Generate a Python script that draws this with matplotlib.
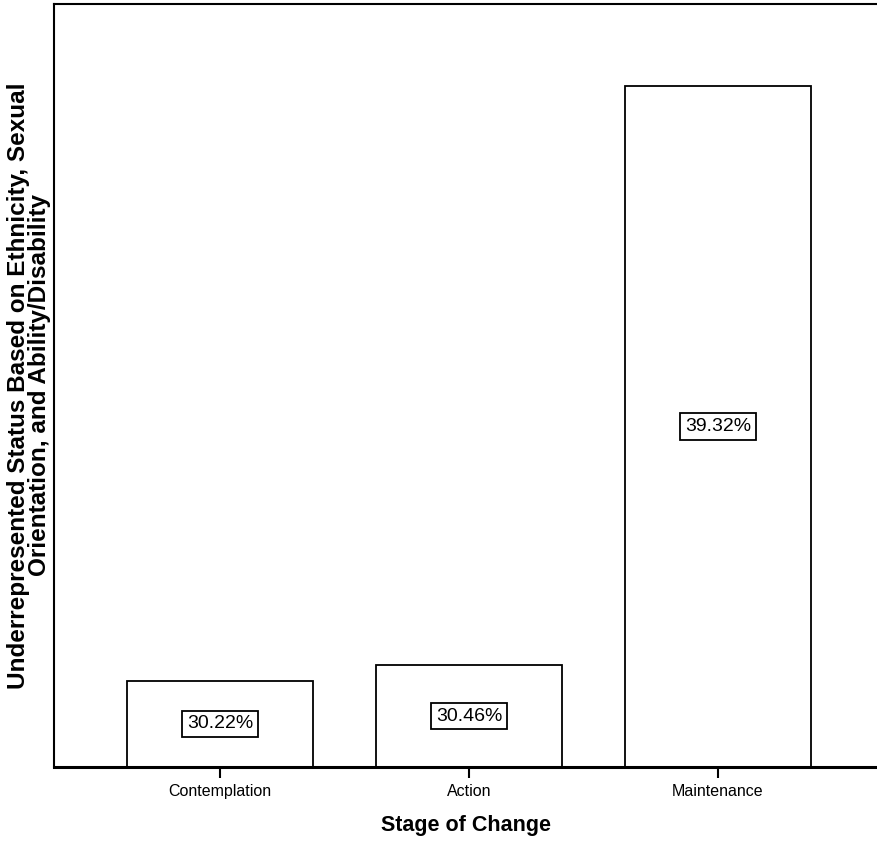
import matplotlib
matplotlib.use("Agg")
import matplotlib.pyplot as plt

categories = ["Contemplation", "Action", "Maintenance"]
values = [30.22, 30.46, 39.32]
labels = ["30.22%", "30.46%", "39.32%"]
ybase = 28.9
ytop = 40.58

font = "Liberation Sans"

fig = plt.figure(figsize=(8.78, 8.44), dpi=100)
ax = fig.add_axes([54/878, 1-767/844, 1-54/878, (767-4)/844])

x = list(range(len(categories)))
ax.bar(x, [v - ybase for v in values], bottom=ybase, width=0.75,
       color="white", edgecolor="black", linewidth=1.3)
for xi, v, lab in zip(x, values, labels):
    ax.text(xi, (ybase + v) / 2, lab, ha="center", va="center",
            fontsize=14, family=font,
            bbox=dict(boxstyle="square,pad=0.25", fc="white", ec="black", lw=1.3))

ax.set_xlim(-0.667, 2.643)
ax.set_ylim(ybase, ytop)
ax.set_xticks(x)
ax.set_xticklabels(categories, fontsize=11.5, family=font)
ax.tick_params(axis="x", length=8, width=1.5, direction="out", pad=4)
ax.set_yticks([])
for s in ["left", "top"]:
    ax.spines[s].set_linewidth(1.5)
ax.spines["bottom"].set_linewidth(2.2)
ax.spines["right"].set_visible(False)

ax.set_xlabel("Stage of Change", fontsize=15.5, fontweight="bold", family=font, labelpad=12)
ax.set_ylabel("Underrepresented Status Based on Ethnicity, Sexual\nOrientation, and Ability/Disability",
              fontsize=17.5, fontweight="bold", family=font,
              linespacing=0.9)
ax.yaxis.set_label_coords(-0.004, 0.5)

fig.savefig("out.png", dpi=100)
